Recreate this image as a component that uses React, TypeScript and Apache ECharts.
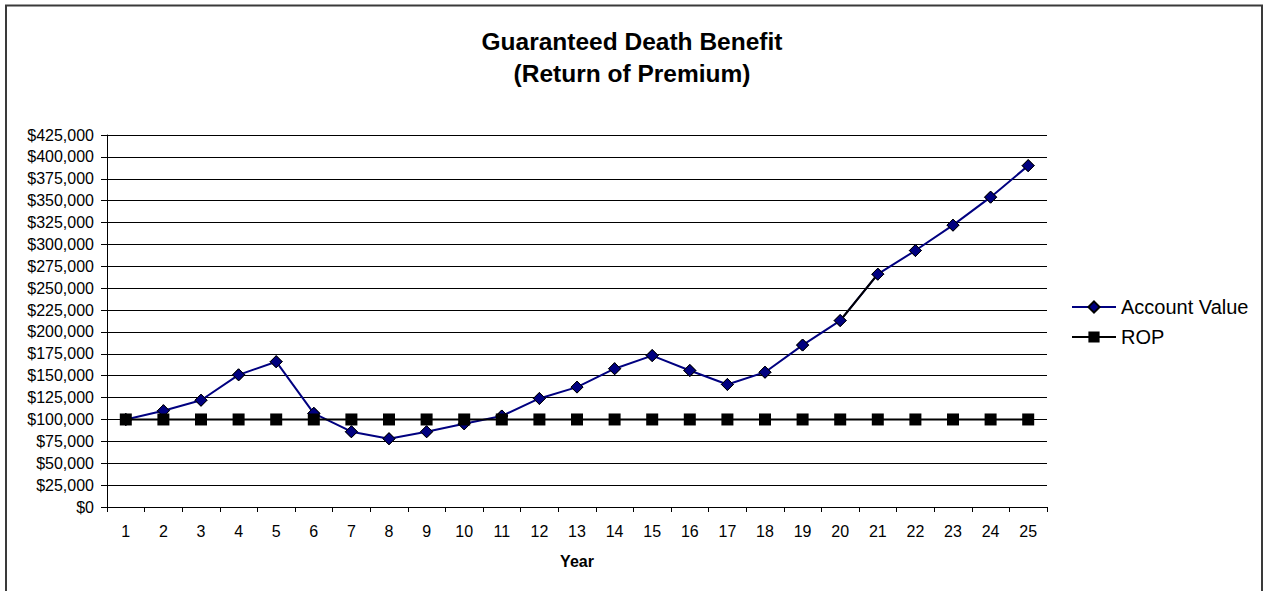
import React, { useEffect, useRef } from "react";
import * as echarts from "echarts";

const years = ["1","2","3","4","5","6","7","8","9","10","11","12","13","14","15","16","17","18","19","20","21","22","23","24","25"];
const accountValue = [100000, 110000, 122000, 151000, 166000, 107000, 86000, 78000, 86000, 95000, 104000, 124000, 137000, 158000, 173000, 156000, 140000, 154000, 185000, 213000, 266000, 293000, 322000, 354000, 390000];
const rop = [100000, 100000, 100000, 100000, 100000, 100000, 100000, 100000, 100000, 100000, 100000, 100000, 100000, 100000, 100000, 100000, 100000, 100000, 100000, 100000, 100000, 100000, 100000, 100000, 100000];
// years whose connecting segment is drawn in black in the reference
const blackSegmentYears = ["20", "21"];

const FONT = "'Liberation Sans', Arial, sans-serif";

export default function App() {
  const ref = useRef<HTMLDivElement>(null);
  useEffect(() => {
    if (!ref.current) return;
    const chart = echarts.init(ref.current, undefined, { renderer: "svg" });
    const segData = accountValue.map((v, i) => (blackSegmentYears.includes(years[i]) ? v : null));
    chart.setOption({
      animation: false,
      backgroundColor: "#fff",
      textStyle: { fontFamily: FONT, color: "#000" },
      title: {
        text: "Guaranteed Death Benefit\n(Return of Premium)",
        left: "center",
        top: 20,
        textStyle: { fontFamily: FONT, fontSize: 24.5, fontWeight: "bold", color: "#000", lineHeight: 32 },
      },
      graphic: [
        {
          type: "rect",
          shape: { x: 6, y: 5.5, width: 1256, height: 620 },
          style: { fill: "none", stroke: "#3a3a3a", lineWidth: 2 },
          silent: true,
        },
      ],
      legend: {
        orient: "vertical",
        left: 1071,
        top: 297,
        padding: 0,
        itemWidth: 44,
        itemHeight: 14,
        itemGap: 10,
        data: ["Account Value", "ROP"],
        textStyle: { fontFamily: FONT, fontSize: 20, color: "#000" },
      },
      grid: { left: 107, top: 135, width: 940, height: 372 },
      xAxis: {
        type: "category",
        data: years,
        boundaryGap: true,
        name: "Year",
        nameLocation: "middle",
        nameGap: 46,
        nameTextStyle: { fontFamily: FONT, fontSize: 16, fontWeight: "bold", color: "#000" },
        axisLine: { show: true, lineStyle: { color: "#000", width: 1 } },
        axisTick: { show: true, length: 5, interval: 0, lineStyle: { color: "#000" } },
        axisLabel: { interval: 0, color: "#000", fontSize: 16, margin: 16, fontFamily: FONT },
        splitLine: { show: false },
      },
      yAxis: {
        type: "value",
        min: 0,
        max: 425000,
        interval: 25000,
        axisLine: { show: true, lineStyle: { color: "#000", width: 1 } },
        axisTick: { show: true, length: 6, lineStyle: { color: "#000" } },
        axisLabel: {
          color: "#000",
          fontSize: 16,
          margin: 13,
          fontFamily: FONT,
          formatter: (v: number) => "$" + v.toLocaleString("en-US"),
        },
        splitLine: { show: true, lineStyle: { color: "#000", width: 1 } },
      },
      series: [
        {
          name: "Account Value",
          type: "line",
          data: accountValue,
          z: 2,
          symbol: "diamond",
          symbolSize: 12,
          lineStyle: { color: "#000080", width: 2 },
          itemStyle: { color: "#000080", borderColor: "#000", borderWidth: 1 },
        },
        {
          name: "segment",
          type: "line",
          data: segData,
          z: 3,
          symbol: "none",
          connectNulls: false,
          lineStyle: { color: "#000", width: 2 },
          silent: true,
        },
        {
          name: "Account Value markers",
          type: "line",
          data: accountValue,
          z: 4,
          symbol: "diamond",
          symbolSize: 12,
          lineStyle: { width: 0, opacity: 0 },
          itemStyle: { color: "#000080", borderColor: "#000", borderWidth: 1 },
          silent: true,
        },
        {
          name: "ROP",
          type: "line",
          data: rop,
          z: 5,
          symbol: "rect",
          symbolSize: 12,
          lineStyle: { color: "#000", width: 2 },
          itemStyle: { color: "#000", borderColor: "#000", borderWidth: 0 },
        },
      ],
    });
    return () => chart.dispose();
  }, []);
  return (
    <div
      ref={ref}
      style={{ position: "fixed", left: 0, top: 0, width: 1264, height: 591 }}
    />
  );
}
